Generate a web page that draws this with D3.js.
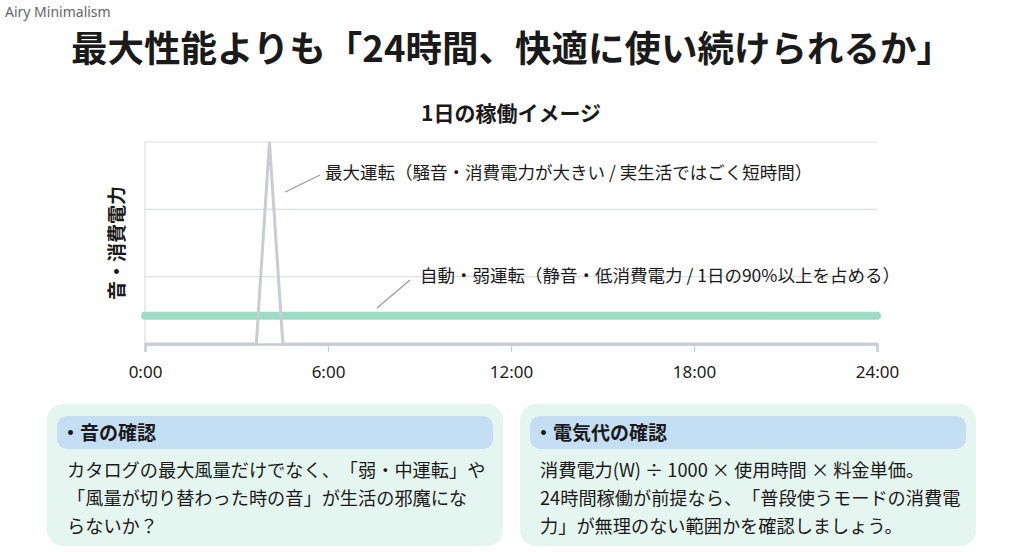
<!DOCTYPE html>
<html><head><meta charset="utf-8">
<script src="https://cdn.jsdelivr.net/npm/d3@7"></script>
<style>
html,body{margin:0;padding:0;background:#fff;}
svg{display:block;font-family:"Noto Sans CJK JP","Noto Sans",sans-serif;text-spacing-trim:space-all;font-feature-settings:"chws" 0, "halt" 0;}
svg text{text-spacing-trim:space-all;}
</style></head>
<body>
<svg id="c" width="1024" height="552"></svg>
<script>
const hourTicks = [0, 6, 12, 18, 24];
const tickLabels = ["0:00", "6:00", "12:00", "18:00", "24:00"];
const yGrid = [1, 2, 3];
// max operation spike (hours, level)
const peakHours = [0, 3.65, 4.08, 4.52, 24];
const peakLevel = [0, 0, 3, 0, 0];
// auto / low operation (hours, level)
const lowHours = [0, 24];
const lowLevel = [0.42, 0.42];

const svg = d3.select("#c");
const x = d3.scaleLinear().domain([0, 24]).range([145, 877]);
const y = d3.scaleLinear().domain([0, 3]).range([344, 142]);

svg.append("text").attr("x", 5).attr("y", 17).attr("font-size", 14).attr("fill", "#666")
  .attr("font-family", "'Noto Sans','Open Sans',sans-serif").text("Airy Minimalism");

svg.append("text").attr("x", 512).attr("y", 62).attr("text-anchor", "middle")
  .attr("font-size", 36.5).attr("font-weight", "bold").attr("fill", "#1a1a1a")
  .text("最大性能よりも「24時間、快適に使い続けられるか」");

svg.append("text").attr("x", 511).attr("y", 121).attr("text-anchor", "middle")
  .attr("font-size", 21).attr("font-weight", "bold").attr("fill", "#1a1a1a")
  .text("1日の稼働イメージ");

// grid
const g = svg.append("g");
g.selectAll("line.grid").data(yGrid).join("line")
  .attr("x1", x(0)).attr("x2", x(24)).attr("y1", d => y(d)).attr("y2", d => y(d))
  .attr("stroke", "#dcdfe3").attr("stroke-width", 1.2);
g.append("line").attr("x1", x(0)).attr("x2", x(0)).attr("y1", y(3)).attr("y2", y(0))
  .attr("stroke", "#dcdfe3").attr("stroke-width", 1.2);

// x axis
const xAxis = d3.axisBottom(x).tickValues(hourTicks).tickFormat((d, i) => tickLabels[i]).tickSize(8).tickPadding(14);
const ax = svg.append("g").attr("transform", `translate(0,${y(0)})`).call(xAxis);
ax.select(".domain").attr("stroke", "#c9cdd3").attr("stroke-width", 2.5);
ax.selectAll(".tick line").attr("stroke", "#c9cdd3").attr("stroke-width", 1.2);
ax.selectAll(".tick text").attr("font-size", 17).attr("fill", "#1a1a1a")
  .attr("font-family", "'Noto Sans',sans-serif");

// y label
svg.append("text").attr("transform", `translate(124,243) rotate(-90)`).attr("text-anchor", "middle")
  .attr("font-size", 19).attr("font-weight", "bold").attr("fill", "#1a1a1a").text("音・消費電力");

const line = d3.line().x(d => x(d[0])).y(d => y(d[1]));
svg.append("path").datum(lowHours.map((h, i) => [h, lowLevel[i]])).attr("d", line)
  .attr("fill", "none").attr("stroke", "#9edcc5").attr("stroke-width", 8).attr("stroke-linecap", "round");
svg.append("path").datum(peakHours.map((h, i) => [h, peakLevel[i]])).attr("d", line)
  .attr("fill", "none").attr("stroke", "#c9ccd2").attr("stroke-width", 3).attr("stroke-linejoin", "miter");

// annotations
svg.append("line").attr("x1", x(4.6)).attr("y1", 192).attr("x2", 320).attr("y2", 175)
  .attr("stroke", "#999").attr("stroke-width", 1.2);
svg.append("text").attr("x", 325).attr("y", 179).attr("font-size", 17.5).attr("fill", "#1a1a1a")
  .text("最大運転（騒音・消費電力が大きい / 実生活ではごく短時間）");
svg.append("line").attr("x1", 377).attr("y1", 308).attr("x2", 410).attr("y2", 280)
  .attr("stroke", "#999").attr("stroke-width", 1.2);
svg.append("text").attr("x", 420).attr("y", 282).attr("font-size", 17.5).attr("fill", "#1a1a1a")
  .text("自動・弱運転（静音・低消費電力 / 1日の90%以上を占める）");

// boxes
const boxes = [
  {x: 47, title: "・音の確認", lines: ["カタログの最大風量だけでなく、「弱・中運転」や", "「風量が切り替わった時の音」が生活の邪魔にな", "らないか？"]},
  {x: 520, title: "・電気代の確認", lines: ["消費電力(W) ÷ 1000 × 使用時間 × 料金単価。", "24時間稼働が前提なら、「普段使うモードの消費電", "力」が無理のない範囲かを確認しましょう。"]}
];
boxes.forEach(b => {
  const bg = svg.append("g");
  bg.append("rect").attr("x", b.x).attr("y", 404).attr("width", 456).attr("height", 142).attr("rx", 16)
    .attr("fill", "#e5f5ef");
  bg.append("rect").attr("x", b.x + 10).attr("y", 416).attr("width", 436).attr("height", 33).attr("rx", 10)
    .attr("fill", "#c4def4");
  bg.append("text").attr("x", b.x + 14).attr("y", 440).attr("font-size", 19).attr("font-weight", "bold")
    .attr("fill", "#1a1a1a").text(b.title);
  b.lines.forEach((t, i) => {
    bg.append("text").attr("x", b.x + 20).attr("y", 477 + i * 28).attr("font-size", 18.2)
      .attr("fill", "#1a1a1a").text(t);
  });
});
</script>
</body></html>
